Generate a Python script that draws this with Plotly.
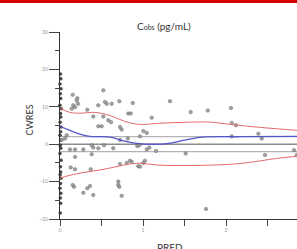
import plotly.graph_objects as go

# scatter points (PRED, CWRES)
pred = [0.153, 0.208, 0.201, 0.217, 0.160, 0.181, 0.522, 0.461, 0.542, 0.563, 0.623, 0.714, 0.876, 1.325,
        0.329, 0.401, 0.522, 0.582, 0.614, 0.461, 0.502, 0.723, 0.743, 0.823, 0.852, 1.105, 0.141, 1.004,
        1.045, 0.964, 0.816, 0.723, 0.081, 0.060, 0.020, 0.181, 0.281, 0.382, 0.401, 0.461, 0.530, 0.382,
        0.181, 0.120, 0.642, 0.931, 0.955, 1.045, 1.076, 1.157, 0.843, 0.864, 0.804, 0.943, 0.964, 1.004,
        1.024, 0.723, 0.129, 0.181, 0.370, 0.153, 0.169, 0.361, 0.329, 0.281, 0.401, 0.702, 0.702, 0.714,
        0.743, 1.575, 1.780, 2.060, 2.069, 2.120, 2.069, 2.389, 2.430, 1.514, 2.470, 2.819, 2.852, 1.759]
cwres = [13.2, 12.3, 11.7, 10.8, 10.4, 9.9, 14.4, 10.4, 11.3, 10.8, 10.8, 11.5, 11.0, 11.5,
         9.2, 7.4, 7.4, 6.4, 5.9, 4.8, 4.8, 4.6, 3.9, 8.2, 8.2, 7.1, 9.5, 3.5,
         3.0, 2.1, 1.5, 1.1, 2.4, 1.5, 1.1, -1.4, -1.4, -0.3, -0.9, -1.1, -0.3, -2.7,
         -3.4, -1.4, -1.1, -0.5, -0.3, -1.4, -0.9, -1.8, -4.4, -4.7, -5.0, -5.9, -6.0, -5.0,
         -4.4, -5.3, -6.2, -6.7, -6.7, -10.9, -11.4, -11.2, -11.8, -13.0, -13.6, -10.0, -10.9, -11.4,
         -13.8, 8.6, 9.0, 9.7, 5.7, 5.1, 2.1, 2.8, 1.5, -2.5, -2.9, -1.6, -2.9, -17.3]

# points lying on the y axis (PRED ~ 0)
pred0 = [0.005, 0.01, 0.0, 0.012, 0.004, 0.008, 0.0, 0.015, 0.006, 0.01, 0.002, 0.012, 0.007, 0.0, 0.01,
         0.004, 0.009, 0.0, 0.013, 0.005, 0.008, 0.002, 0.011, 0.006, 0.0, 0.01, 0.004, 0.007, 0.003]
cwres0 = [18.8, 17.5, 16.1, 14.8, 13.5, 12.2, 10.4, 9.5, 8.2, 7.3, 5.9, 4.6, 3.3, 2.4, 1.1,
          -0.3, -1.1, -2.5, -4.3, -6.0, -7.4, -8.2, -9.1, -10.5, -11.8, -13.1, -14.4, -15.8, -18.4]

# smooth / percentile lines
up_x = [0, 0.12, 0.24, 0.42, 0.6, 0.78, 0.96, 1.2, 1.57, 1.81, 2.05, 2.41, 2.86]
up_y = [9.6, 8.5, 8.3, 8.5, 7.7, 6.1, 5.3, 5.6, 5.9, 5.9, 5.3, 4.5, 3.7]
lo_x = [0, 0.12, 0.3, 0.48, 0.66, 0.84, 0.96, 1.2, 1.81, 2.2, 2.61, 2.86]
lo_y = [-9.1, -8.3, -7.5, -6.9, -6.1, -5.3, -5.1, -5.6, -5.6, -5.1, -3.8, -3.2]
md_x = [0, 0.12, 0.24, 0.36, 0.6, 0.78, 0.9, 1.2, 1.33, 1.5, 1.72, 2.17, 2.86]
md_y = [4.8, 3.7, 2.7, 2.1, 1.9, 0.8, 0.3, 0.0, 0.3, 1.1, 1.9, 2.0, 2.1]

ref_levels = [0, 2, -2]
ref_x = [0, 3]

y_ticks = [-20, -10, 0, 10, 20, 30]
x_ticks = [0, 0.5, 1, 1.5, 2, 2.5]
x_ticktext = ["0", "", "1", "", "2", ""]

fig = go.Figure()

for lv in ref_levels:
    fig.add_trace(go.Scatter(x=ref_x, y=[lv, lv], mode="lines",
                             line=dict(color="#8c8c8c" if lv == 0 else "#b4b4b4", width=1.4 if lv == 0 else 1.2),
                             hoverinfo="skip", showlegend=False))

fig.add_trace(go.Scatter(x=pred0, y=cwres0, mode="markers",
                         marker=dict(size=3.5, color="#333333", opacity=0.9),
                         showlegend=False, cliponaxis=False))
fig.add_trace(go.Scatter(x=pred, y=cwres, mode="markers",
                         marker=dict(size=3.5, color="#9a9a9a", opacity=0.9,
                                     line=dict(color="#606060", width=0.5)),
                         showlegend=False))

fig.add_trace(go.Scatter(x=up_x, y=up_y, mode="lines", line=dict(color="#e46a6a", width=1, shape="spline"),
                         showlegend=False))
fig.add_trace(go.Scatter(x=lo_x, y=lo_y, mode="lines", line=dict(color="#e46a6a", width=1, shape="spline"),
                         showlegend=False))
fig.add_trace(go.Scatter(x=md_x, y=md_y, mode="lines", line=dict(color="#5555cc", width=1.3, shape="spline"),
                         showlegend=False))

fig.update_layout(
    width=297, height=249,
    margin=dict(l=60, r=0, t=32, b=30),
    paper_bgcolor="white", plot_bgcolor="white",
    font=dict(family="Lato, Open Sans, sans-serif", color="#333333"),
    xaxis=dict(range=[0, 2.855], tickvals=x_ticks, ticktext=x_ticktext, ticks="outside", ticklen=6,
               tickcolor="#444", showgrid=False, zeroline=False, showline=True, linecolor="#333",
               linewidth=1.2, tickfont=dict(size=5, color="#999999")),
    yaxis=dict(range=[-20, 30], tickvals=y_ticks, ticks="outside", ticklen=10, tickcolor="#444",
               showgrid=False, zeroline=False, showline=True, linecolor="#333", linewidth=1.2,
               tickfont=dict(size=5, color="#999999"),
               minor=dict(dtick=5, ticks="outside", ticklen=4, tickcolor="#444")),
    shapes=[dict(type="rect", xref="paper", yref="paper", x0=-0.3, x1=1.1, y0=1.155, y1=1.2,
                 fillcolor="#d40000", line=dict(width=0), layer="above")],
    annotations=[
        dict(text="C<span style='font-size:7px'>obs</span> (pg/mL)", xref="paper", yref="paper",
             x=0.439, y=1.075, showarrow=False, font=dict(size=10, color="#333")),
        dict(text="CWRES", xref="paper", yref="paper", x=-0.16, y=0.53, textangle=-90,
             showarrow=False, font=dict(size=9, color="#333")),
        dict(text="PRED", xref="paper", yref="paper", x=0.464, y=-0.108, yanchor="top",
             showarrow=False, font=dict(size=10, color="#333")),
    ],
)

fig.write_html("out.html", config={"displayModeBar": False},
               post_script="document.body.style.margin='0px';document.body.style.overflow='hidden';")
